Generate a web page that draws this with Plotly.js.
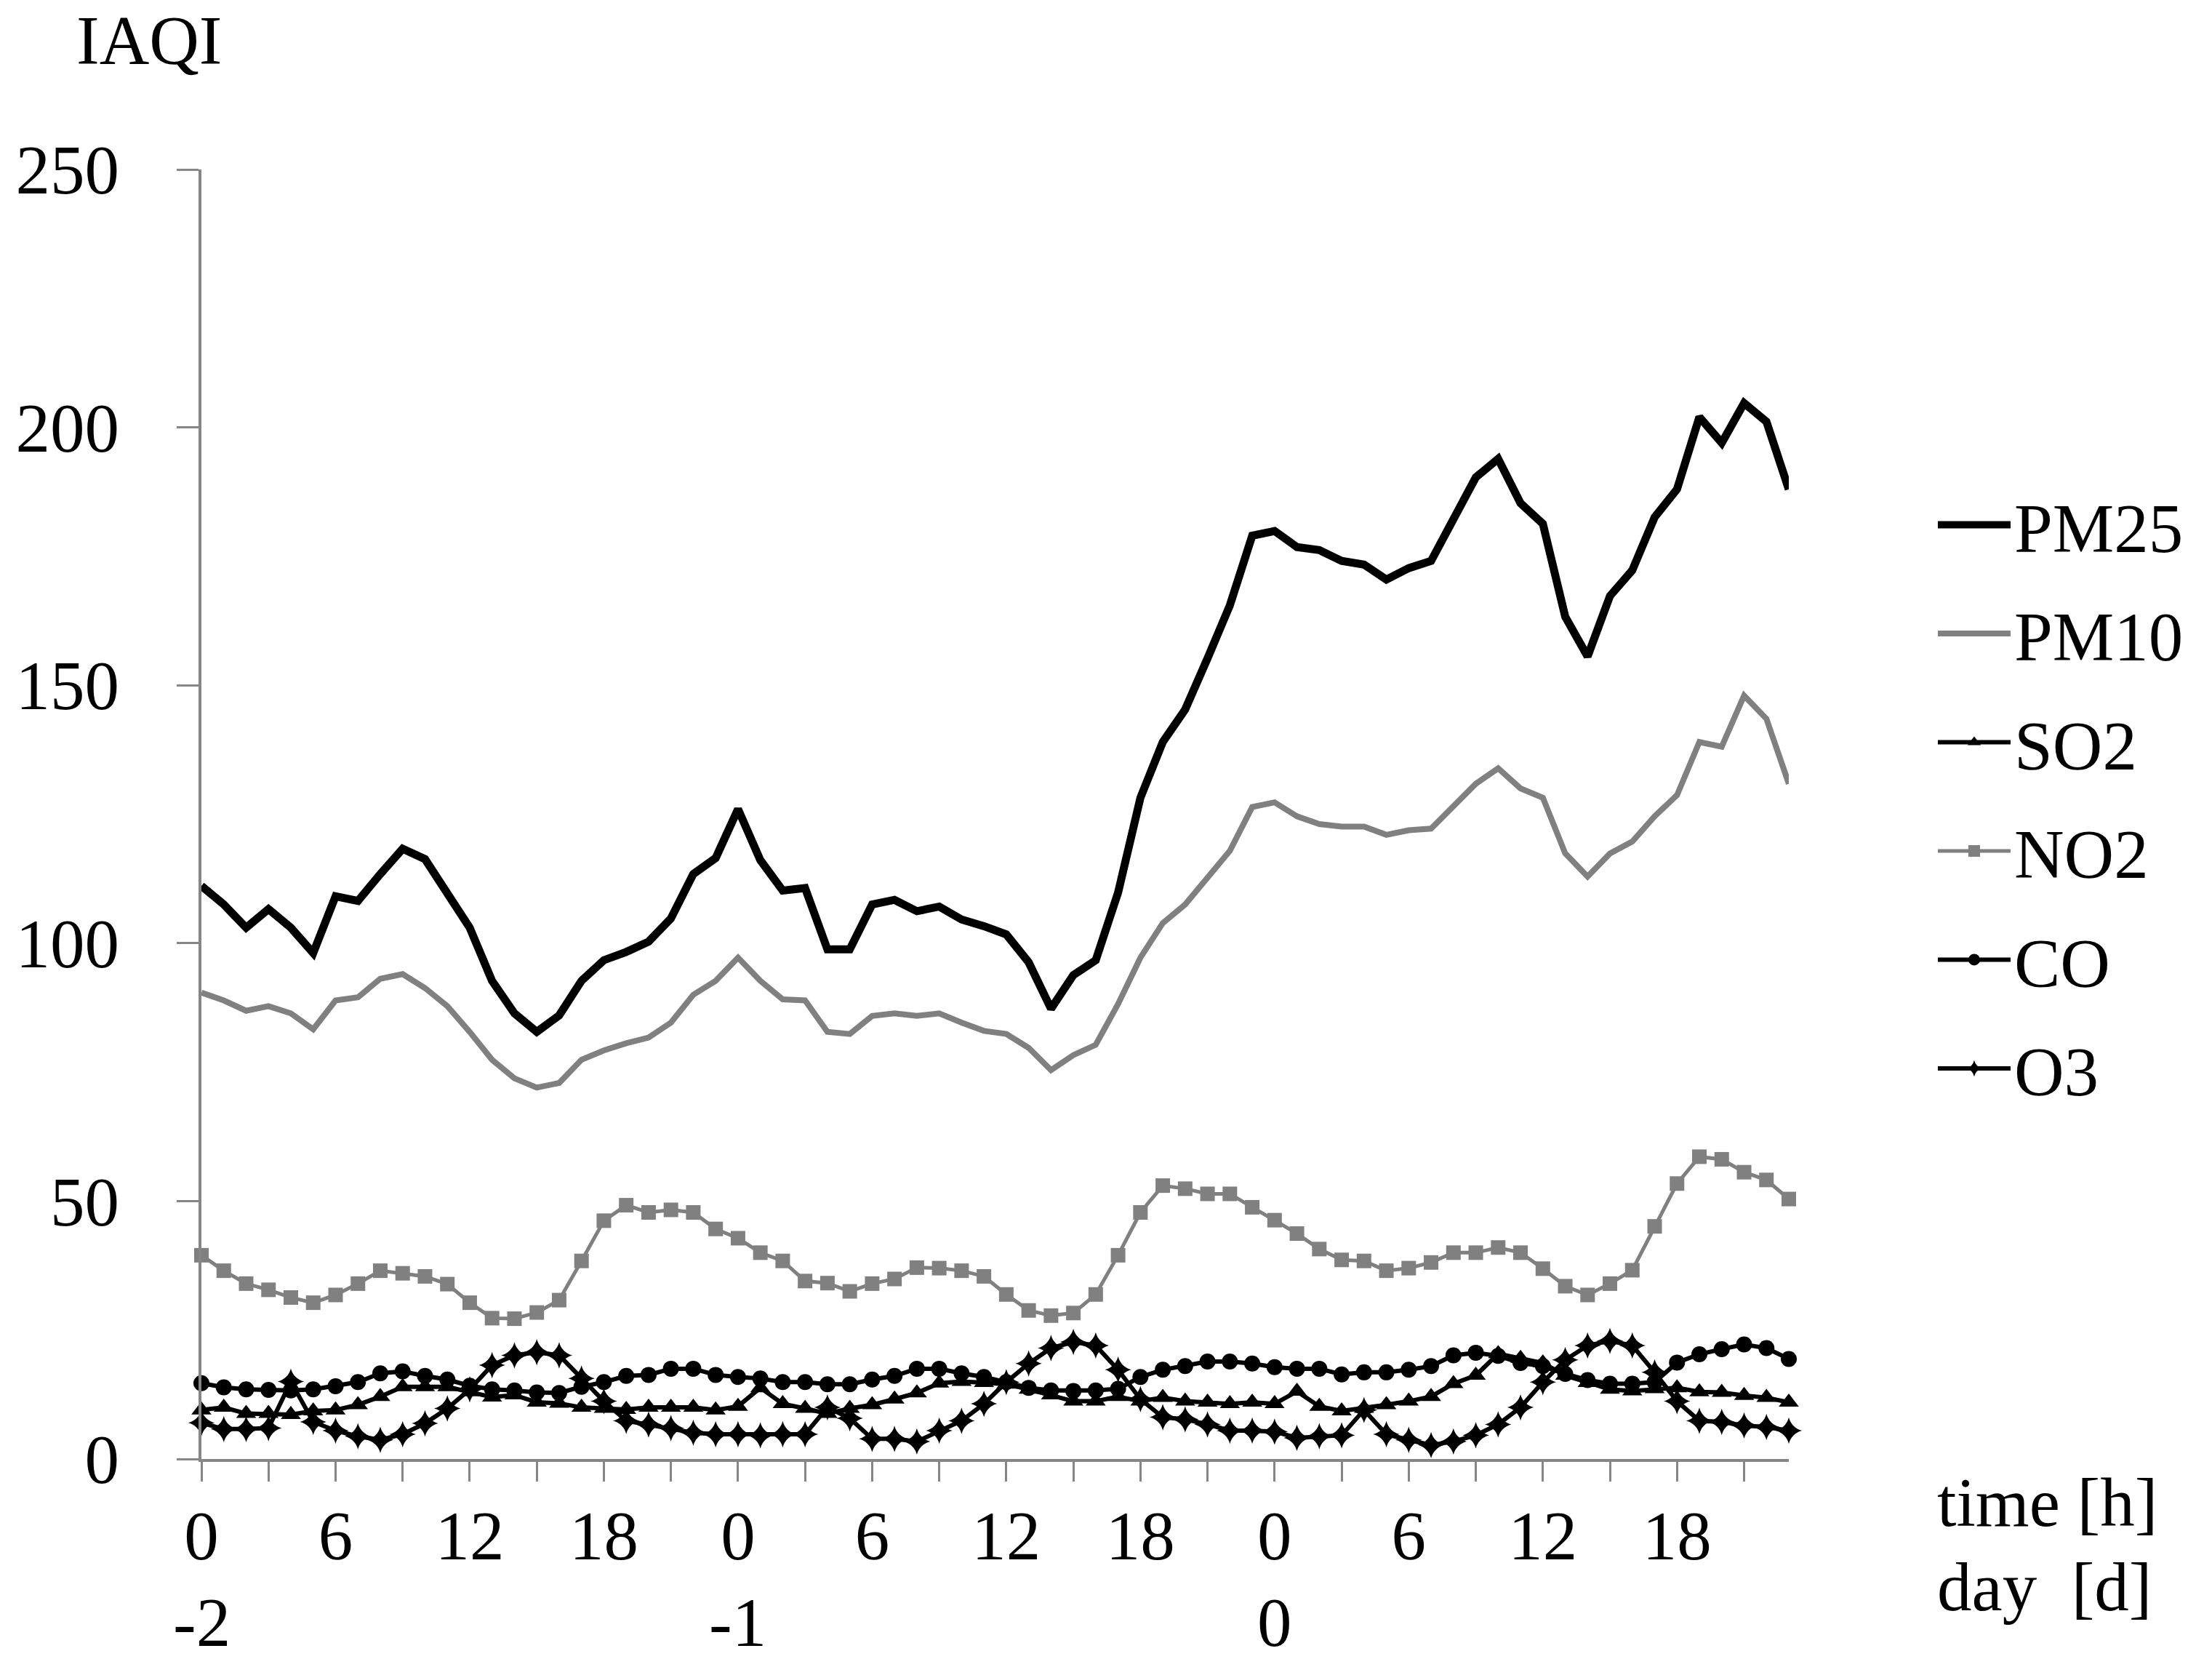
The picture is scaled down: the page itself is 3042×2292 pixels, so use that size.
<!DOCTYPE html>
<html>
<head>
<meta charset="utf-8">
<script src="https://cdn.plot.ly/plotly-3.0.1.min.js"></script>
<style>
  html, body { margin: 0; padding: 0; background: #ffffff; }
  #iaqi { width: 3042px; height: 2292px; }
</style>
</head>
<body>
<div id="iaqi"></div>
<script>
// hourly IAQI values over three days (day -2, -1, 0)
const pm25 = [
  111.1, 107.5, 103.0, 106.6, 103.0, 98.1, 109.1, 108.2, 113.4, 118.3, 116.3, 109.8,
  103.0, 92.7, 86.4, 82.8, 86.0, 92.7, 96.7, 98.3, 100.3, 104.8, 113.4, 116.5,
  126.0, 116.1, 110.2, 110.7, 98.8, 98.8, 107.5, 108.4, 106.2, 107.1, 104.6, 103.3,
  101.7, 96.3, 87.3, 93.8, 96.7, 109.8, 128.2, 139.0, 145.3, 155.2, 165.5, 179.0,
  179.9, 176.8, 176.2, 174.1, 173.4, 170.5, 172.7, 174.1, 182.2, 190.3, 193.9, 185.3,
  181.3, 163.3, 155.6, 167.3, 172.3, 182.6, 188.0, 202.0, 197.0, 204.7, 201.1, 188.0
];
const pm10 = [
  90.4, 88.9, 86.9, 87.8, 86.4, 83.3, 88.9, 89.5, 93.1, 94.0, 91.3, 87.8,
  82.8, 77.4, 73.8, 72.0, 72.9, 77.4, 79.2, 80.6, 81.7, 84.6, 90.0, 92.7,
  97.2, 92.7, 89.1, 88.9, 82.8, 82.4, 85.9, 86.4, 85.9, 86.4, 84.6, 83.0,
  82.4, 79.7, 75.4, 78.3, 80.3, 88.2, 97.2, 103.9, 107.5, 112.5, 117.9, 126.4,
  127.3, 124.6, 123.1, 122.6, 122.6, 121.0, 121.9, 122.2, 126.4, 130.9, 133.9, 130.0,
  128.2, 117.4, 112.9, 117.4, 119.7, 124.6, 128.7, 139.0, 138.1, 148.0, 143.5, 130.9
];
const so2 = [
  9.5, 10.0, 8.8, 8.8, 8.6, 9.3, 9.5, 10.5, 12.1, 14.0, 14.0, 14.0,
  13.0, 12.0, 12.4, 11.0, 10.8, 10.0, 9.8, 9.6, 10.0, 10.0, 10.0, 9.5,
  10.2, 13.8, 10.7, 9.8, 8.8, 9.8, 10.5, 11.6, 12.8, 14.7, 15.0, 14.8,
  14.5, 13.5, 12.4, 11.2, 11.2, 12.1, 11.2, 11.9, 11.2, 11.0, 10.7, 11.0,
  10.7, 13.1, 10.2, 9.3, 9.8, 10.5, 11.2, 12.1, 14.6, 16.2, 20.4, 19.5,
  18.6, 16.2, 14.8, 13.5, 13.2, 13.6, 13.8, 13.0, 12.9, 12.3, 11.9, 11.0
];
const no2 = [
  39.5, 36.5, 34.0, 32.8, 31.3, 30.3, 31.8, 34.0, 36.5, 36.0, 35.4, 33.9,
  30.3, 27.3, 27.2, 28.4, 30.8, 38.4, 46.2, 49.2, 47.8, 48.3, 47.8, 44.6,
  42.8, 40.0, 38.4, 34.5, 34.1, 32.5, 34.0, 34.9, 37.1, 37.0, 36.5, 35.4,
  31.9, 28.8, 27.8, 28.3, 31.9, 39.5, 47.8, 53.0, 52.4, 51.4, 51.4, 48.8,
  46.3, 43.7, 40.7, 38.6, 38.4, 36.5, 37.0, 38.1, 40.0, 40.0, 41.0, 40.0,
  36.9, 33.5, 31.8, 34.0, 36.6, 45.1, 53.4, 58.6, 58.1, 55.6, 54.1, 50.4
];
const co = [
  14.7, 13.9, 13.5, 13.4, 13.3, 13.5, 14.1, 14.9, 16.6, 17.0, 16.1, 15.4,
  14.2, 13.5, 13.3, 12.9, 12.8, 14.0, 14.9, 16.1, 16.3, 17.5, 17.5, 16.3,
  15.9, 15.6, 14.9, 14.9, 14.5, 14.5, 15.4, 16.1, 17.5, 17.5, 16.6, 15.9,
  14.9, 13.8, 13.3, 13.2, 13.3, 13.6, 15.9, 17.3, 18.0, 18.9, 18.9, 18.5,
  17.8, 17.5, 17.5, 16.4, 16.8, 16.8, 17.3, 18.0, 20.1, 20.6, 20.0, 18.6,
  18.0, 16.5, 15.3, 14.6, 14.6, 14.9, 18.7, 20.3, 21.3, 22.2, 21.5, 19.4
];
const o3 = [
  7.0, 5.8, 5.8, 6.0, 15.0, 7.2, 5.5, 4.4, 3.7, 4.8, 6.9, 9.8,
  13.5, 18.2, 20.1, 20.7, 20.1, 15.6, 11.2, 7.4, 6.7, 6.0, 5.1, 4.8,
  4.8, 4.6, 4.8, 4.8, 10.0, 7.9, 3.9, 3.9, 3.4, 5.5, 7.4, 10.7,
  14.9, 18.5, 21.5, 22.7, 22.0, 17.3, 11.6, 8.1, 7.7, 6.7, 5.5, 5.5,
  5.3, 4.1, 4.4, 4.6, 9.5, 4.8, 3.7, 2.7, 3.4, 4.6, 6.7, 10.0,
  14.9, 19.2, 22.0, 22.9, 22.0, 16.8, 11.2, 7.4, 7.2, 6.5, 6.2, 5.5
];

// axis labels
const hourTicks = [0, 3, 6, 9, 12, 15, 18, 21, 24, 27, 30, 33, 36, 39, 42, 45, 48, 51, 54, 57, 60, 63, 66, 69];
const hourLabels = ["0", "", "6", "", "12", "", "18", "", "0", "", "6", "", "12", "", "18", "",
                    "0", "", "6", "", "12", "", "18", ""];
const dayPos = [0, 24, 48];
const dayLabels = ["-2", "-1", "0"];
const yTicks = [0, 50, 100, 150, 200, 250];

const FONT = "Liberation Serif, Times New Roman, serif";
const AXIS_GREY = "#868686";

function hoursFor(values) {
  // x position of each hourly sample (0 .. 71)
  return values.map((v, i) => i);
}

function makeTrace(name, values, opts) {
  const trace = {
    x: hoursFor(values),
    y: values,
    name: name,
    legendgroup: name,
    type: "scatter",
    mode: "lines",
    cliponaxis: false,
    line: { color: opts.color, width: opts.width }
  };
  if (opts.symbol) {
    trace.mode = "lines+markers";
    trace.marker = { symbol: opts.symbol, size: opts.size, color: opts.color };
  }
  return trace;
}

function drawChart() {
  const traces = [
    makeTrace("PM25", pm25, { color: "#000000", width: 11 }),
    makeTrace("PM10", pm10, { color: "#808080", width: 8 }),
    makeTrace("SO2", so2, { color: "#000000", width: 6, symbol: "triangle-up", size: 24 }),
    makeTrace("NO2", no2, { color: "#808080", width: 5, symbol: "square", size: 20 }),
    makeTrace("CO", co, { color: "#000000", width: 6, symbol: "circle", size: 22 }),
    makeTrace("O3", o3, { color: "#000000", width: 6, symbol: "star-diamond", size: 26 })
  ];

  const annotations = [
    { text: "IAQI", xref: "paper", yref: "paper", x: -0.033, y: 1.10,
      xanchor: "center", yanchor: "middle", showarrow: false,
      font: { family: FONT, size: 95, color: "#000" } },
    { text: "time [h]", xref: "paper", yref: "paper", x: 1.0925, y: -0.034,
      xanchor: "left", yanchor: "middle", showarrow: false,
      font: { family: FONT, size: 95, color: "#000" } },
    { text: "day  [d]", xref: "paper", yref: "paper", x: 1.0925, y: -0.099,
      xanchor: "left", yanchor: "middle", showarrow: false,
      font: { family: FONT, size: 95, color: "#000" } }
  ];
  // day numbers below the hour labels
  dayPos.forEach((d, i) => {
    annotations.push({
      text: dayLabels[i], xref: "x", yref: "paper", x: d, y: -0.127,
      xanchor: "center", yanchor: "middle", showarrow: false,
      font: { family: FONT, size: 95, color: "#000" }
    });
  });

  const layout = {
    width: 3042,
    height: 2292,
    margin: { l: 277, r: 582, t: 233, b: 286 },
    paper_bgcolor: "#ffffff",
    plot_bgcolor: "#ffffff",
    showlegend: true,
    font: { family: FONT, size: 95, color: "#000" },
    xaxis: {
      range: [0, 71],
      tickmode: "array",
      tickvals: hourTicks,
      ticktext: hourLabels,
      ticks: "outside",
      ticklen: 27,
      tickwidth: 3,
      tickcolor: AXIS_GREY,
      ticklabelstandoff: -7,
      showline: true,
      linecolor: AXIS_GREY,
      linewidth: 4,
      showgrid: false,
      zeroline: false,
      tickfont: { family: FONT, size: 95, color: "#000" }
    },
    yaxis: {
      range: [0, 250],
      tickmode: "array",
      tickvals: yTicks,
      ticks: "outside",
      ticklen: 30,
      tickwidth: 3,
      tickcolor: AXIS_GREY,
      ticklabelstandoff: 60,
      showline: true,
      linecolor: AXIS_GREY,
      linewidth: 4,
      showgrid: false,
      zeroline: false,
      tickfont: { family: FONT, size: 95, color: "#000" }
    },
    legend: {
      x: 1.0916,
      xanchor: "left",
      y: 0.763,
      yanchor: "top",
      traceorder: "grouped",
      tracegroupgap: 23,
      itemwidth: 100,
      font: { family: FONT, size: 95, color: "#000" },
      bgcolor: "rgba(0,0,0,0)"
    },
    annotations: annotations
  };

  Plotly.newPlot("iaqi", traces, layout, { staticPlot: true });
}

document.addEventListener("DOMContentLoaded", drawChart);
</script>
</body>
</html>
